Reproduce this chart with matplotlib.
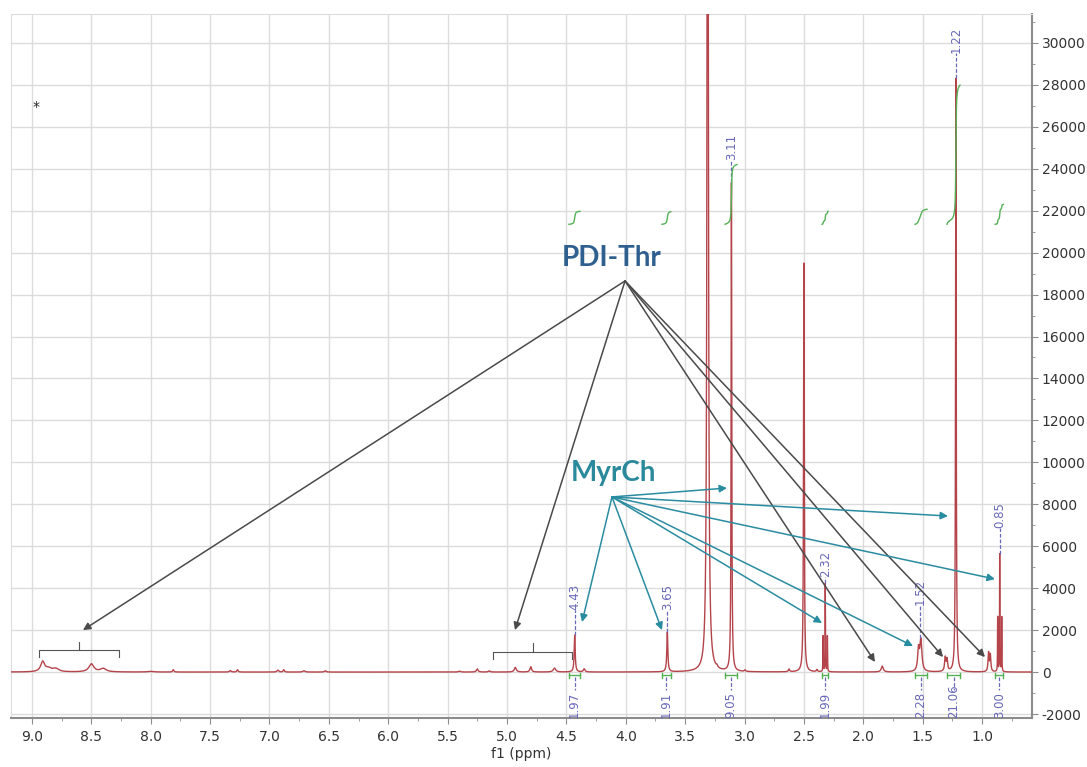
import matplotlib

matplotlib.use("Agg")
import matplotlib.pyplot as plt
import numpy as np
from matplotlib.ticker import MultipleLocator

plt.rcParams["axes.unicode_minus"] = False

# peaks: position (ppm), height, half width (ppm)
peak_ppm = [
    8.91, 8.86, 8.80, 8.50, 8.40, 8.00, 7.81, 7.33, 7.27, 6.93, 6.88, 6.71,
    6.53, 5.40, 5.25, 5.15, 4.93, 4.80, 4.60, 4.43, 4.35, 3.65, 3.31, 3.232,
    3.11, 2.996, 2.625, 2.50, 2.39, 2.338, 2.320, 2.302, 1.84, 1.535, 1.515,
    1.31, 1.295, 1.22, 0.945, 0.93, 0.868, 0.851, 0.834,
]
peak_height = [
    480, 150, 150, 380, 160, 30, 110, 70, 110, 90, 110, 60,
    60, 40, 150, 60, 220, 250, 190, 1760, 150, 1900, 70000, 80,
    23300, 70, 130, 19500, 100, 1700, 4200, 1700, 280, 1000, 1500,
    650, 550, 28300, 900, 800, 2600, 5600, 2600,
]
peak_hwhm = [
    0.020, 0.030, 0.030, 0.025, 0.030, 0.030, 0.006, 0.008, 0.006, 0.008,
    0.006, 0.010, 0.008, 0.010, 0.008, 0.008, 0.010, 0.008, 0.012, 0.005,
    0.008, 0.005, 0.005, 0.006, 0.0032, 0.006, 0.006, 0.0035, 0.006, 0.0015,
    0.0015, 0.0015, 0.010, 0.008, 0.010, 0.006, 0.006, 0.0032, 0.005, 0.005,
    0.0015, 0.0015, 0.0015,
]

# peak picking labels
pick_ppm = [4.43, 3.65, 3.11, 2.32, 1.52, 1.22, 0.85]
pick_label_y = [2960, 2960, 24420, 4530, 3200, 29520, 6870]

# integration regions and values
integ_high = [4.478, 3.695, 3.164, 2.347, 1.564, 1.295, 0.890]
integ_low = [4.385, 3.620, 3.063, 2.297, 1.463, 1.185, 0.820]
integ_value = [1.97, 1.91, 9.05, 1.99, 2.28, 21.06, 3.00]
integ_base = 21350
integ_scale = 315

# brackets over the PDI-Thr signals
brace_left = [8.94, 5.12]
brace_right = [8.27, 4.45]
brace_mid = [8.60, 4.78]
brace_top = [1050, 960]
brace_end = [716, 620]
brace_tick = [1430, 1400]

# annotations
pdi_text = (4.116, 19740)
pdi_origin = (4.006, 18650)
pdi_target_ppm = [8.571, 4.933, 1.901, 1.328, 0.975]
pdi_target_int = [2000, 2000, 480, 715, 715]

myr_text = (4.107, 9490)
myr_origin = (4.116, 8350)
myr_target_ppm = [4.368, 3.695, 3.147, 2.347, 1.581, 1.286, 0.891]
myr_target_int = [2385, 2000, 8775, 2340, 1240, 7440, 4435]

LINE = "#b5434a"
LABEL = "#6868b8"
GREEN = "#55b055"
GRID = "#dcdcdc"


def spectrum(x: np.ndarray) -> np.ndarray:
    y = np.zeros_like(x)
    for pos, h, g in zip(peak_ppm, peak_height, peak_hwhm):
        y += h * g**2 / (g**2 + (x - pos) ** 2)
    return y


def main() -> None:
    fig = plt.figure(figsize=(10.87, 7.67), dpi=100)
    ax = fig.add_axes([0.0101, 0.0639, 0.9393, 0.9179])

    x = np.linspace(9.3, 0.5, 60000)
    y = spectrum(x)
    ax.plot(x, y, color=LINE, lw=1.0, zorder=3)

    # peak labels
    for pos, ly in zip(pick_ppm, pick_label_y):
        near = np.abs(x - pos) < 0.012
        top = y[near].max()
        ax.plot([pos, pos], [top, ly], color=LABEL, lw=0.9,
                ls=(0, (3, 1.5)), zorder=4)
        ax.text(pos, ly, f"{pos:.2f}", rotation=90, ha="center",
                va="bottom", fontsize=8.5, color=LABEL)

    # integrals
    for hi, lo, val in zip(integ_high, integ_low, integ_value):
        sel = (x <= hi) & (x >= lo)
        cum = np.cumsum(y[sel])
        cum = cum / cum[-1]
        ax.plot(x[sel], integ_base + cum * val * integ_scale,
                color=GREEN, lw=1.0, zorder=4)
        ax.plot([hi, lo], [-160, -160], color=GREEN, lw=1.0)
        ax.plot([hi, hi], [-290, -30], color=GREEN, lw=1.0)
        ax.plot([lo, lo], [-290, -30], color=GREEN, lw=1.0)
        mid = (hi + lo) / 2
        ax.plot([mid, mid], [-250, -850], color=LABEL, lw=0.9,
                ls=(0, (3, 1.5)))
        ax.text(mid, -2190, f"{val:.2f}", rotation=90, ha="center",
                va="bottom", fontsize=8.5, color=LABEL)

    # brackets
    for l, r, m, t, e, k in zip(brace_left, brace_right, brace_mid,
                                brace_top, brace_end, brace_tick):
        ax.plot([l, l, r, r], [e, t, t, e], color="#555555", lw=0.8)
        ax.plot([m, m], [t, k], color="#555555", lw=0.8)

    ax.text(8.97, 26950, "*", ha="center", va="center", fontsize=10,
            color="#222222")

    # annotation arrows
    ax.text(*pdi_text, "PDI-Thr", ha="center", va="center", fontsize=20,
            fontweight="bold", family="Lato", color="#2e5f8f", zorder=6)
    for tx, ty in zip(pdi_target_ppm, pdi_target_int):
        ax.annotate("", xy=(tx, ty), xytext=pdi_origin,
                    arrowprops=dict(arrowstyle="-|>", color="#4a4a4a",
                                    lw=1.1, mutation_scale=11,
                                    shrinkA=0, shrinkB=0), zorder=6)
    ax.text(*myr_text, "MyrCh", ha="center", va="center", fontsize=20,
            fontweight="bold", family="Lato", color="#2a8a9c", zorder=6)
    for tx, ty in zip(myr_target_ppm, myr_target_int):
        ax.annotate("", xy=(tx, ty), xytext=myr_origin,
                    arrowprops=dict(arrowstyle="-|>", color="#2a8ca0",
                                    lw=1.1, mutation_scale=11,
                                    shrinkA=0, shrinkB=0), zorder=6)

    ax.set_xlim(9.177, 0.579)
    ax.set_ylim(-2190, 31380)
    ax.xaxis.set_major_locator(MultipleLocator(0.5))
    ax.xaxis.set_minor_locator(MultipleLocator(0.25))
    ax.yaxis.set_major_locator(MultipleLocator(2000))
    ax.yaxis.set_minor_locator(MultipleLocator(1000))
    ax.xaxis.set_major_formatter(lambda v, _: f"{v:.1f}")
    ax.yaxis.tick_right()
    ax.grid(True, which="major", color=GRID, lw=1.0, zorder=0)
    ax.set_axisbelow(True)

    for side in ("left", "top"):
        ax.spines[side].set_color(GRID)
    for side in ("bottom", "right"):
        ax.spines[side].set_color("#8c8c8c")
        ax.spines[side].set_linewidth(1.5)
    ax.tick_params(which="major", length=4, color="#8c8c8c",
                   labelsize=10, labelcolor="#333333", pad=3)
    ax.tick_params(which="minor", length=2.5, color="#8c8c8c")
    ax.tick_params(axis="x", which="major", pad=5)
    ax.set_xlabel("f1 (ppm)", fontsize=10, color="#333333", labelpad=2)

    fig.savefig("out.png", dpi=100)


if __name__ == "__main__":
    main()
